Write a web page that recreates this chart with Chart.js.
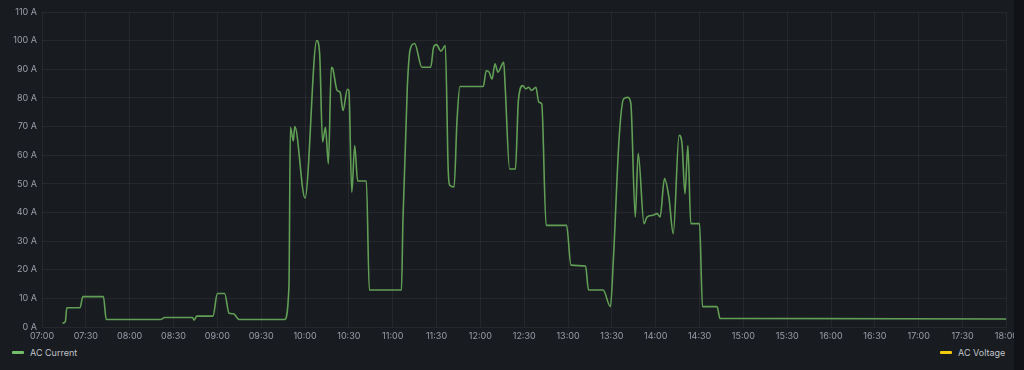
<!DOCTYPE html>
<html>
<head>
<meta charset="utf-8">
<script src="https://cdn.jsdelivr.net/npm/chart.js@4"></script>
<style>
  html,body{margin:0;padding:0;background:#111217;width:1024px;height:370px;overflow:hidden;}
  #wrap{position:absolute;left:0;top:0;width:1014px;height:370px;background:#181b1f;overflow:hidden;}
  #box{position:absolute;left:0;top:0;width:1022px;height:345px;}
  .leg{position:absolute;top:347px;font:9px Inter, "DejaVu Sans", sans-serif;color:#c0c4cc;display:flex;align-items:center;white-space:nowrap;}
  .sw{display:inline-block;width:12px;height:3px;border-radius:1px;margin-right:6px;}
</style>
</head>
<body>
<div id="wrap">
  <div id="box"><canvas id="c"></canvas></div>
  <div class="leg" style="left:12px;"><span class="sw" style="background:#73bf69"></span><span id="l1"></span></div>
  <div class="leg" style="left:940px;"><span class="sw" style="background:#f2cc0c"></span><span id="l2"></span></div>
</div>
<script>
const seriesNames = ["AC Current", "AC Voltage"];
const yTickValues = [0,10,20,30,40,50,60,70,80,90,100,110];
const times = ["07:14","07:16","07:17","07:26","07:28","07:42","07:44","08:21","08:24","08:43","08:44","08:46","08:57","09:00","09:05","09:08","09:11","09:15","09:46","09:49","09:50","09:52","09:53","10:00","10:08","10:10","10:12","10:14","10:16","10:18","10:19","10:22","10:24","10:26","10:29","10:30","10:32","10:34","10:36","10:42","10:44","11:06","11:07","11:10","11:12","11:15","11:20","11:26","11:28","11:30","11:33","11:36","11:38","11:39","11:42","11:44","11:46","12:02","12:04","12:06","12:08","12:10","12:12","12:16","12:17","12:20","12:24","12:26","12:29","12:31","12:33","12:35","12:38","12:40","12:42","12:45","12:59","13:02","13:12","13:14","13:24","13:29","13:31","13:35","13:38","13:41","13:43","13:46","13:48","13:52","13:54","13:58","14:01","14:03","14:06","14:09","14:12","14:16","14:18","14:20","14:22","14:24","14:30","14:32","14:42","14:44","18:00"];
const acCurrent = [1.3,2,6.7,6.7,10.6,10.6,2.6,2.6,3.3,3.3,2.4,3.8,3.8,11.7,11.7,4.8,4.6,2.6,2.6,14,69.7,65,70,45,100,95.5,64.6,69.7,57,90.7,90.2,82.6,82,75.6,83,82.6,47,63.4,51,51,12.9,12.9,37,83.7,97,99,90.7,90.7,97.7,98.6,96.3,98.3,54.7,49.5,48.9,72,84,84,89.5,89,86.6,91.9,89,92.4,83.7,55.2,55.2,79,84.3,83.2,83.7,82.6,83.7,78.5,77.9,35.5,35.5,21.6,21.3,12.9,12.9,7.1,23.3,66.3,79.6,80.2,77.9,38.4,60.7,36.1,38.4,39,39.6,38.4,51.8,45.4,32.6,66.9,64,46.5,63.4,36.1,36.1,7.1,7.1,3,2.8];
const acVoltage = [];

document.getElementById('l1').textContent = seriesNames[0];
document.getElementById('l2').textContent = seriesNames[1];

const toMin = s => { const [h,m] = s.split(':').map(Number); return h*60+m; };
const pad = n => String(n).padStart(2,'0');
const fmt = v => pad(Math.floor(v/60)) + ':' + pad(v%60);

const font = {family: 'Inter, "DejaVu Sans", sans-serif', size: 9};
const tickColor = 'rgba(204,204,220,0.72)';
const gridColor = 'rgba(204,204,220,0.075)';

new Chart(document.getElementById('c'), {
  type: 'line',
  data: {
    datasets: [
      {label: seriesNames[0], data: times.map((t,i)=>({x: toMin(t), y: acCurrent[i]})),
       borderColor: '#629f56', borderWidth: 1.6, pointRadius: 0, cubicInterpolationMode: 'monotone', fill: false},
      {label: seriesNames[1], data: acVoltage, borderColor: '#f2cc0c', borderWidth: 1.5, pointRadius: 0}
    ]
  },
  options: {
    responsive: true, maintainAspectRatio: false, animation: false,
    layout: {padding: {top: 12, right: 15, left: 0, bottom: 0}},
    plugins: {legend: {display: false}, tooltip: {enabled: false}},
    scales: {
      x: {
        type: 'linear', min: 420, max: 1080,
        afterBuildTicks: s => { s.ticks = []; for (let v = 420; v <= 1080; v += 30) s.ticks.push({value: v}); },
        ticks: {callback: v => fmt(v), color: tickColor, font, padding: 4, maxRotation: 0, autoSkip: false},
        grid: {color: gridColor, drawTicks: false},
        border: {display: false},
        afterFit: s => { s.height = 18; }
      },
      y: {
        min: 0, max: 110,
        afterBuildTicks: s => { s.ticks = yTickValues.map(v => ({value: v})); },
        ticks: {callback: v => v + ' A', color: tickColor, font, padding: 5},
        grid: {color: gridColor, drawTicks: false},
        border: {display: false},
        afterFit: s => { s.width = 42; }
      }
    }
  }
});
</script>
</body>
</html>
